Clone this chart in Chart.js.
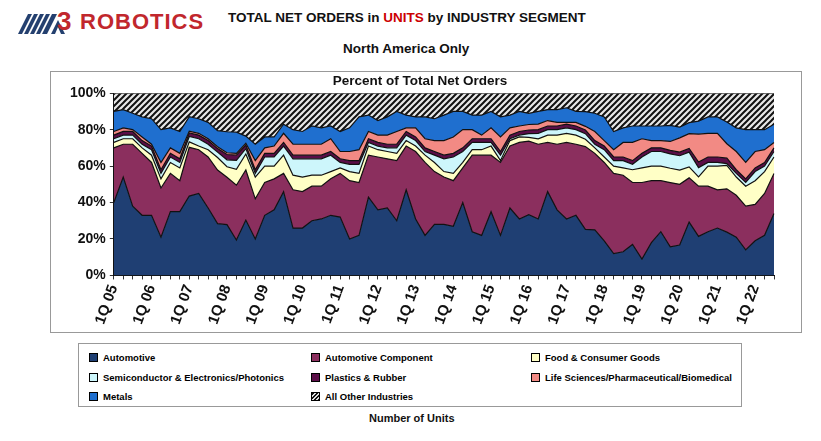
<!DOCTYPE html>
<html><head><meta charset="utf-8">
<script src="https://cdn.jsdelivr.net/npm/chart.js@4"></script>
<style>
body{margin:0;width:821px;height:441px;background:#fff;font-family:"Liberation Sans",Arial,sans-serif;position:relative;overflow:hidden}
.t{position:absolute;font-weight:bold;color:#111;white-space:nowrap}
#frame{position:absolute;left:50px;top:71px;width:750px;height:260px;border:1px solid #999}
#wrap{position:absolute;left:40px;top:72px;width:770px;height:258px}
#legend{position:absolute;left:78px;top:343px;width:662px;height:62px;border:1px solid #999;font-size:9.5px;font-weight:bold}
.li{position:absolute;display:flex;align-items:center}
.sw{width:7px;height:7px;border:1px solid #000;margin-right:5px}
</style></head><body>
<svg style="position:absolute;left:18px;top:10px" width="70" height="28">
<g fill="#24406f"><polygon points="0,24 4,24 14,4 10,4"/><polygon points="6,24 10,24 20,4 16,4"/><polygon points="12,24 16,24 26,4 22,4"/><polygon points="18,24 22,24 32,4 28,4"/><polygon points="24,24 29,24 39,4 34,4"/></g>
<polygon points="33,24 40,10 47,24 43,24 40,17 37,24" fill="#24406f"/>
</svg>
<div class="t" style="left:57px;top:6px;font-size:26px;color:#c1272d">3</div>
<div class="t" style="left:80px;top:9px;font-size:22px;color:#c1272d;letter-spacing:1px">ROBOTICS</div>
<div class="t" style="left:228px;top:10px;font-size:13.5px">TOTAL NET ORDERS in <span style="color:#c00">UNITS</span> by INDUSTRY SEGMENT</div>
<div class="t" style="left:343px;top:41px;font-size:13.5px">North America Only</div>
<div id="frame"></div>
<div id="wrap"><canvas id="c"></canvas></div>
<div id="legend"></div>
<div class="t" style="left:369px;top:412px;font-size:11px">Number of Units</div>
<script>
const years=['05','06','07','08','09','10','11','12','13','14','15','16','17','18','19','20','21','22'];
const categories=[];years.forEach(y=>{for(let q=1;q<=4;q++)categories.push(q+'Q '+y);});categories.length=71;
const automotive=[40,54,38,33,33,21,35,35,44,45,37,29,29,20,31,20,33,36,46,26,26,30,31,33,32,20,22,43,36,37,30,47,31,22,28,28,27,40,24,22,35,22,37,31,33,31,46,36,31,33,25,25,19,12,13,17,9,18,24,16,17,29,21,24,26,24,21,14,19,22,34];
const autoComponent=[30,18,34,34,29,27,21,17,27,24,28,30,27,31,28,22,18,17,10,21,20,19,18,20,24,32,29,23,29,27,33,24,37,40,29,26,25,19,42,44,31,40,34,42,40,41,27,36,42,39,45,42,43,44,42,34,42,34,28,36,34,24,27,25,21,24,23,24,20,23,22];
const foodConsumer=[3,3,3,3,4,5,6,7,3,2,4,7,6,9,9,12,9,7,10,8,8,6,6,4,3,5,5,5,4,4,4,3,3,4,5,3,4,3,3,3,5,1,3,3,2,3,4,5,5,5,4,3,3,4,4,7,8,8,8,8,8,6,5,11,13,13,10,11,13,12,9];
const semiconductor=[2,2,2,2,3,3,3,3,3,4,3,3,4,5,3,2,5,5,5,9,10,9,9,9,3,4,5,2,2,2,3,3,3,2,4,7,9,6,4,4,2,3,1,1,2,3,3,3,3,3,3,2,4,3,4,3,6,8,8,8,8,8,5,2,2,1,2,2,5,3,3];
const plastics=[2,2,2,2,2,2,2,2,2,2,2,2,3,3,2,2,2,2,2,2,2,2,2,2,2,2,2,2,2,2,2,2,2,2,2,2,2,2,2,2,2,2,2,2,2,2,2,2,2,2,2,2,2,2,2,2,2,2,2,2,2,2,3,3,3,3,2,2,2,2,2];
const lifeSciences=[2,2,1,2,1,4,3,3,1,1,1,1,1,1,1,5,3,4,5,6,6,6,6,7,4,5,6,4,4,5,7,2,5,5,6,8,9,10,5,2,6,8,4,3,3,3,3,2,1,2,2,5,3,4,8,10,8,4,4,5,8,8,15,13,13,8,10,9,9,7,3];
const metals=[11,10,9,11,14,18,11,12,8,8,9,9,12,12,4,9,6,5,5,8,7,10,9,7,11,13,18,9,8,10,11,7,6,12,12,14,14,10,8,11,9,11,7,8,6,7,6,7,8,6,8,10,13,10,8,9,7,8,8,9,6,6,7,9,9,12,13,18,12,11,10];
const allOther=[10,9,11,13,14,20,19,21,13,14,16,21,22,22,24,28,24,24,17,20,21,18,19,18,21,19,13,12,15,13,10,12,13,13,14,12,10,10,12,12,10,13,12,10,11,10,9,9,8,10,10,11,13,21,19,18,18,18,18,18,19,16,15,13,13,16,19,20,20,20,17];
const yTicks=[0,20,40,60,80,100];

const pc=document.createElement('canvas');pc.width=6;pc.height=6;const px=pc.getContext('2d');
px.fillStyle='#e8e8e8';px.fillRect(0,0,6,6);px.strokeStyle='#111';px.lineWidth=2;
px.beginPath();px.moveTo(-1,7);px.lineTo(7,-1);px.moveTo(-1,1);px.lineTo(1,-1);px.moveTo(5,7);px.lineTo(7,5);px.stroke();
const hatch=document.getElementById('c').getContext('2d').createPattern(pc,'repeat');

const raw=[automotive,autoComponent,foodConsumer,semiconductor,plastics,lifeSciences,metals,allOther];
const totals=categories.map((_,i)=>raw.reduce((s,a)=>s+a[i],0));
const norm=a=>a.map((v,i)=>v/totals[i]*100);
const names=['Automotive','Automotive Component','Food & Consumer Goods','Semiconductor & Electronics/Photonics','Plastics & Rubber','Life Sciences/Pharmaceutical/Biomedical','Metals','All Other Industries'];
const colors=['#1f3f73','#8b2f5e','#ffffc6','#cdf6fb','#5b0e48','#f28a84','#1f6fcf',hatch];
const datasets=raw.map((a,k)=>({label:names[k],data:norm(a),backgroundColor:colors[k],borderColor:'#111',borderWidth:1.2,fill:k==0?'origin':'-1',pointRadius:0,tension:0}));

new Chart(document.getElementById('c'),{type:'line',data:{labels:categories,datasets},
options:{responsive:true,maintainAspectRatio:false,animation:false,
layout:{padding:{left:26,right:36,top:0,bottom:0}},
plugins:{legend:{display:false},tooltip:{enabled:false},
title:{display:true,text:'Percent of Total Net Orders',color:'#111',font:{family:'Liberation Sans',size:13.5,weight:'bold'},padding:{top:1,bottom:4}}},
scales:{x:{offset:false,grid:{display:true,drawOnChartArea:false,color:'#333',tickLength:4},border:{color:'#111'},
ticks:{autoSkip:false,maxRotation:70,minRotation:70,color:'#111',font:{family:'Liberation Sans',size:15,weight:'bold'},
callback:(v,i)=>i%4==0?categories[i]:''}},
y:{stacked:true,min:0,max:100,afterBuildTicks:ax=>{ax.ticks=yTicks.map(v=>({value:v}));},grid:{drawOnChartArea:false,color:'#333',tickLength:4},border:{color:'#111'},
ticks:{color:'#111',padding:4,font:{family:'Liberation Sans',size:14,weight:'bold'},callback:v=>v+'%'}}}}});

const lg=document.getElementById('legend');
const pos=[[10,8],[232,8],[452,8],[10,28],[232,28],[452,28],[10,47],[232,47]];
names.forEach((n,k)=>{const d=document.createElement('div');d.className='li';d.style.left=pos[k][0]+'px';d.style.top=pos[k][1]+'px';
const s=document.createElement('div');s.className='sw';
if(k==7)s.style.background='repeating-linear-gradient(135deg,#111 0 1.5px,#ddd 1.5px 3px)';else s.style.background=colors[k];
d.appendChild(s);d.appendChild(document.createTextNode(n));lg.appendChild(d);});
</script></body></html>
